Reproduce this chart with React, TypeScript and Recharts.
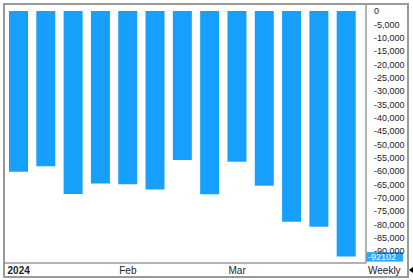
import { BarChart, Bar, XAxis, YAxis, ReferenceLine } from "recharts";

const weeks = [
  "2024-01-05", "2024-01-12", "2024-01-19", "2024-01-26",
  "2024-02-02", "2024-02-09", "2024-02-16", "2024-02-23",
  "2024-03-01", "2024-03-08", "2024-03-15", "2024-03-22", "2024-03-29",
];
const values = [
  -60300, -58200, -68600, -64700, -65000, -66900, -55900,
  -68700, -56500, -65500, -79000, -80900, -92102,
];
const weekLabels = ["2024", "", "", "", "Feb", "", "", "", "Mar", "", "", "", ""];
const yTicks = [
  0, -5000, -10000, -15000, -20000, -25000, -30000, -35000, -40000, -45000,
  -50000, -55000, -60000, -65000, -70000, -75000, -80000, -85000, -90000,
];
const lastValue = values[values.length - 1];

const BAR = "#17a0fb";
const TAG = "#28a9ff";
const BORDER = "#999";
const FONT = "'Liberation Sans', Arial, sans-serif";

const data = weeks.map((w, i) => ({ week: w, value: values[i] }));

const WeekTick = ({ x, index }: any) => {
  const label = weekLabels[index];
  if (!label) return null;
  return (
    <text
      x={x}
      y={270}
      textAnchor="middle"
      dominantBaseline="central"
      fontSize={10}
      fontFamily={FONT}
      fontWeight={label === "2024" ? 700 : 400}
      fill="#222"
    >
      {label}
    </text>
  );
};

const LastTag = ({ viewBox }: any) => {
  if (!viewBox) return null;
  const x = viewBox.x + viewBox.width;
  const y = viewBox.y;
  return (
    <g>
      <rect x={x} y={y - 4.5} width={37} height={9.5} fill={TAG} />
      <text x={x + 2} y={y + 0.5} dominantBaseline="central" fontSize={9} fontFamily={FONT} fill="#fff">
        {lastValue}
      </text>
    </g>
  );
};

export default function App() {
  return (
    <div style={{ position: "fixed", left: 0, top: 0, width: 413, height: 280, background: "#fff" }}>
      <div
        style={{
          position: "absolute",
          left: 3,
          top: 3,
          width: 406,
          height: 275,
          boxSizing: "border-box",
          border: `2px solid ${BORDER}`,
        }}
      />
      <BarChart
        width={413}
        height={280}
        data={data}
        margin={{ top: 4, left: 4, right: 5, bottom: 3 }}
        barCategoryGap={0}
        style={{ position: "absolute", left: 0, top: 0 }}
      >
        <XAxis
          dataKey="week"
          height={14}
          interval={0}
          tickLine={false}
          tickSize={0}
          axisLine={{ stroke: BORDER, strokeWidth: 1.5 }}
          tick={<WeekTick />}
          padding={{ left: 1, right: 6 }}
        />
        <YAxis
          orientation="right"
          width={42}
          domain={[-94500, 2625]}
          ticks={yTicks}
          interval={0}
          tickLine={false}
          tickMargin={2}
          allowDataOverflow
          axisLine={{ stroke: BORDER, strokeWidth: 1.5 }}
          tick={{ fontSize: 9, fontFamily: FONT, fill: "#222" }}
          tickFormatter={(v: number) => v.toLocaleString("en-US")}
        />
        <Bar dataKey="value" fill={BAR} barSize={19} isAnimationActive={false} />
        <ReferenceLine y={lastValue} stroke="none" label={<LastTag />} />
      </BarChart>
      <div
        style={{
          position: "absolute",
          left: 368,
          top: 264,
          fontSize: 10,
          fontFamily: FONT,
          color: "#222",
          lineHeight: "13px",
        }}
      >
        Weekly
      </div>
      <div
        style={{
          position: "absolute",
          left: 409,
          top: 267,
          width: 0,
          height: 0,
          borderTop: "3px solid transparent",
          borderBottom: "3px solid transparent",
          borderRight: "4px solid #000",
        }}
      />
    </div>
  );
}
